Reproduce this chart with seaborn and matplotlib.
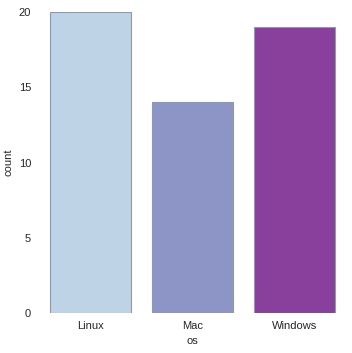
import matplotlib
matplotlib.use("Agg")
import matplotlib.pyplot as plt
import seaborn as sns
import pandas as pd

categories = ["Linux", "Mac", "Windows"]
counts = [20, 14, 19]
yticks = [0, 5, 10, 15, 20]

rows = []
for c, n in zip(categories, counts):
    rows += [c] * n
df = pd.DataFrame({"os": rows})

sns.set_theme(style="white")
plt.rcParams['font.family'] = ['Liberation Sans', 'DejaVu Sans']

fig = plt.figure(figsize=(3.52, 3.53), dpi=100)
ax = fig.add_axes([0.112, 0.113, 0.8695, 0.853])
sns.countplot(data=df, x="os", order=categories, hue="os", palette="BuPu",
              legend=False, ax=ax, saturation=1, edgecolor="#8f9aa6", linewidth=0.8)
ax.set_ylim(0, 20)
ax.set_yticks(yticks)
ax.tick_params(labelsize=8, length=0, pad=6)
ax.set_xlabel("os", fontsize=8, labelpad=3)
ax.set_ylabel("count", fontsize=8, labelpad=4)
sns.despine(left=True, bottom=True)
fig.savefig("out.png", dpi=100)
